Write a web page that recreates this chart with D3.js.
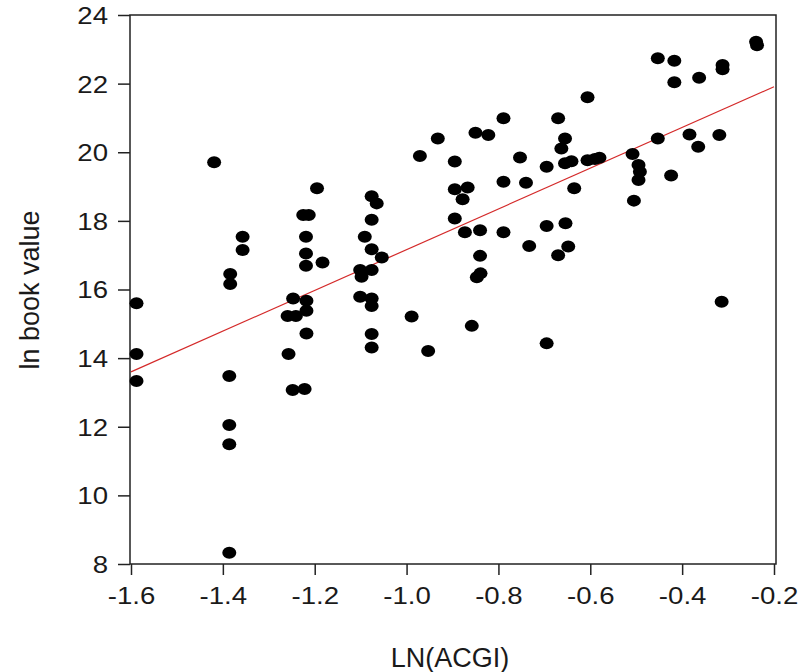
<!DOCTYPE html>
<html>
<head>
<meta charset="utf-8">
<script src="https://cdn.jsdelivr.net/npm/d3@7"></script>
<style>
  body { margin: 0; background: #fff; }
  svg { display: block; }
  text { font-family: "Liberation Sans", Arial, sans-serif; fill: #1a1a1a; }
</style>
</head>
<body>
<div id="chart"></div>
<script>
// values
var lnAcgi = [
  -1.588, -1.588, -1.588, -1.419,
  -1.384, -1.384, -1.386, -1.386, -1.386, -1.386, -1.357, -1.357,
  -1.225, -1.213, -1.195, -1.219, -1.219, -1.219, -1.183,
  -1.247, -1.218, -1.259, -1.241, -1.218, -1.218, -1.257, -1.248, -1.222,
  -1.076, -1.065, -1.076, -1.091, -1.076, -1.054, -1.101, -1.076, -1.098,
  -1.101, -1.076, -1.076, -1.076, -1.076,
  -0.989, -0.953, -0.971, -0.932,
  -0.895, -0.895, -0.867, -0.878, -0.895, -0.873, -0.840, -0.840, -0.847, -0.839, -0.858,
  -0.850, -0.822, -0.789,
  -0.789, -0.740, -0.753, -0.789, -0.733,
  -0.695, -0.695, -0.695,
  -0.670, -0.655, -0.663, -0.655, -0.641, -0.670, -0.654, -0.648, -0.635,
  -0.606, -0.606, -0.590, -0.580,
  -0.508, -0.495, -0.492, -0.495, -0.505,
  -0.453, -0.417, -0.417, -0.453, -0.424,
  -0.384, -0.363, -0.365,
  -0.319, -0.312, -0.312, -0.314,
  -0.239, -0.237
];
var lnBookValue = [
  15.60, 14.12, 13.33, 19.71,
  16.45, 16.16, 13.48, 12.05, 11.49, 8.33, 17.54, 17.15,
  18.17, 18.17, 18.95, 17.54, 17.05, 16.69, 16.79,
  15.74, 15.67, 15.23, 15.23, 15.38, 14.72, 14.12, 13.07, 13.10,
  18.72, 18.51, 18.03, 17.54, 17.17, 16.93, 16.57, 16.57, 16.37,
  15.79, 15.74, 15.52, 14.70, 14.31,
  15.21, 14.21, 19.89, 20.40,
  19.73, 18.92, 18.97, 18.63, 18.07, 17.67, 17.73, 16.98, 16.36, 16.47, 14.94,
  20.57, 20.50, 20.99,
  19.14, 19.11, 19.85, 17.67, 17.27,
  19.58, 17.85, 14.43,
  20.99, 20.40, 20.11, 19.68, 19.74, 17.00, 17.93, 17.25, 18.95,
  21.60, 19.77, 19.80, 19.84,
  19.95, 19.63, 19.43, 19.19, 18.59,
  22.74, 22.67, 22.04, 20.40, 19.32,
  20.52, 22.17, 20.16,
  20.50, 22.54, 22.42, 15.64,
  23.22, 23.12
];
// fitted line end points
var fitX = [-1.6, -0.2];
var fitY = [13.60, 21.91];

var xTicks = [-1.6, -1.4, -1.2, -1.0, -0.8, -0.6, -0.4, -0.2];
var yTicks = [8, 10, 12, 14, 16, 18, 20, 22, 24];

var width = 802, height = 672;
var m = {left: 131, right: 774, top: 15, bottom: 564};

var svg = d3.select("#chart").append("svg")
    .attr("width", width)
    .attr("height", height);

var x = d3.scaleLinear().domain([-1.6, -0.2]).range([m.left, m.right]);
var y = d3.scaleLinear().domain([8, 24]).range([m.bottom, m.top]);

// frame
svg.append("rect")
    .attr("x", m.left - 1).attr("y", m.top)
    .attr("width", m.right + 2 - (m.left - 1)).attr("height", m.bottom - m.top)
    .attr("fill", "none").attr("stroke", "#222").attr("stroke-width", 1.5);

var xAxis = svg.append("g")
    .attr("transform", "translate(0," + m.bottom + ")")
    .call(d3.axisBottom(x).tickValues(xTicks)
      .tickFormat(function(d) { return d.toFixed(1); })
      .tickSize(11).tickSizeOuter(0));
xAxis.select(".domain").remove();
xAxis.selectAll("line").attr("stroke", "#222").attr("stroke-width", 1.5);
xAxis.selectAll("text")
    .attr("y", 0).attr("dy", 0)
    .attr("transform", "translate(0,40) scale(1.15,1)")
    .style("font-size", "24px");

var yAxis = svg.append("g")
    .attr("transform", "translate(" + (m.left - 1) + ",0)")
    .call(d3.axisLeft(y).tickValues(yTicks).tickSize(12).tickSizeOuter(0));
yAxis.select(".domain").remove();
yAxis.selectAll("line").attr("stroke", "#222").attr("stroke-width", 1.5);
yAxis.selectAll("text")
    .attr("x", 0).attr("dy", "0.35em")
    .attr("transform", "translate(-22,0) scale(1.15,1)")
    .style("font-size", "24px");

// regression line
svg.append("line")
    .attr("x1", x(fitX[0])).attr("y1", y(fitY[0]))
    .attr("x2", x(fitX[1])).attr("y2", y(fitY[1]))
    .attr("stroke", "#d42a2a").attr("stroke-width", 1.2);

// points
svg.append("g").selectAll("ellipse")
    .data(d3.range(lnAcgi.length))
    .enter().append("ellipse")
    .attr("cx", function(i) { return x(lnAcgi[i]); })
    .attr("cy", function(i) { return y(lnBookValue[i]); })
    .attr("rx", 7)
    .attr("ry", 6)
    .attr("fill", "#000");

// axis titles
svg.append("text")
    .attr("x", 450).attr("y", 667)
    .attr("text-anchor", "middle")
    .style("font-size", "27px")
    .text("LN(ACGI)");

svg.append("text")
    .attr("transform", "translate(39,290) rotate(-90)")
    .attr("text-anchor", "middle")
    .style("font-size", "27px")
    .text("ln book value");
</script>
</body>
</html>
